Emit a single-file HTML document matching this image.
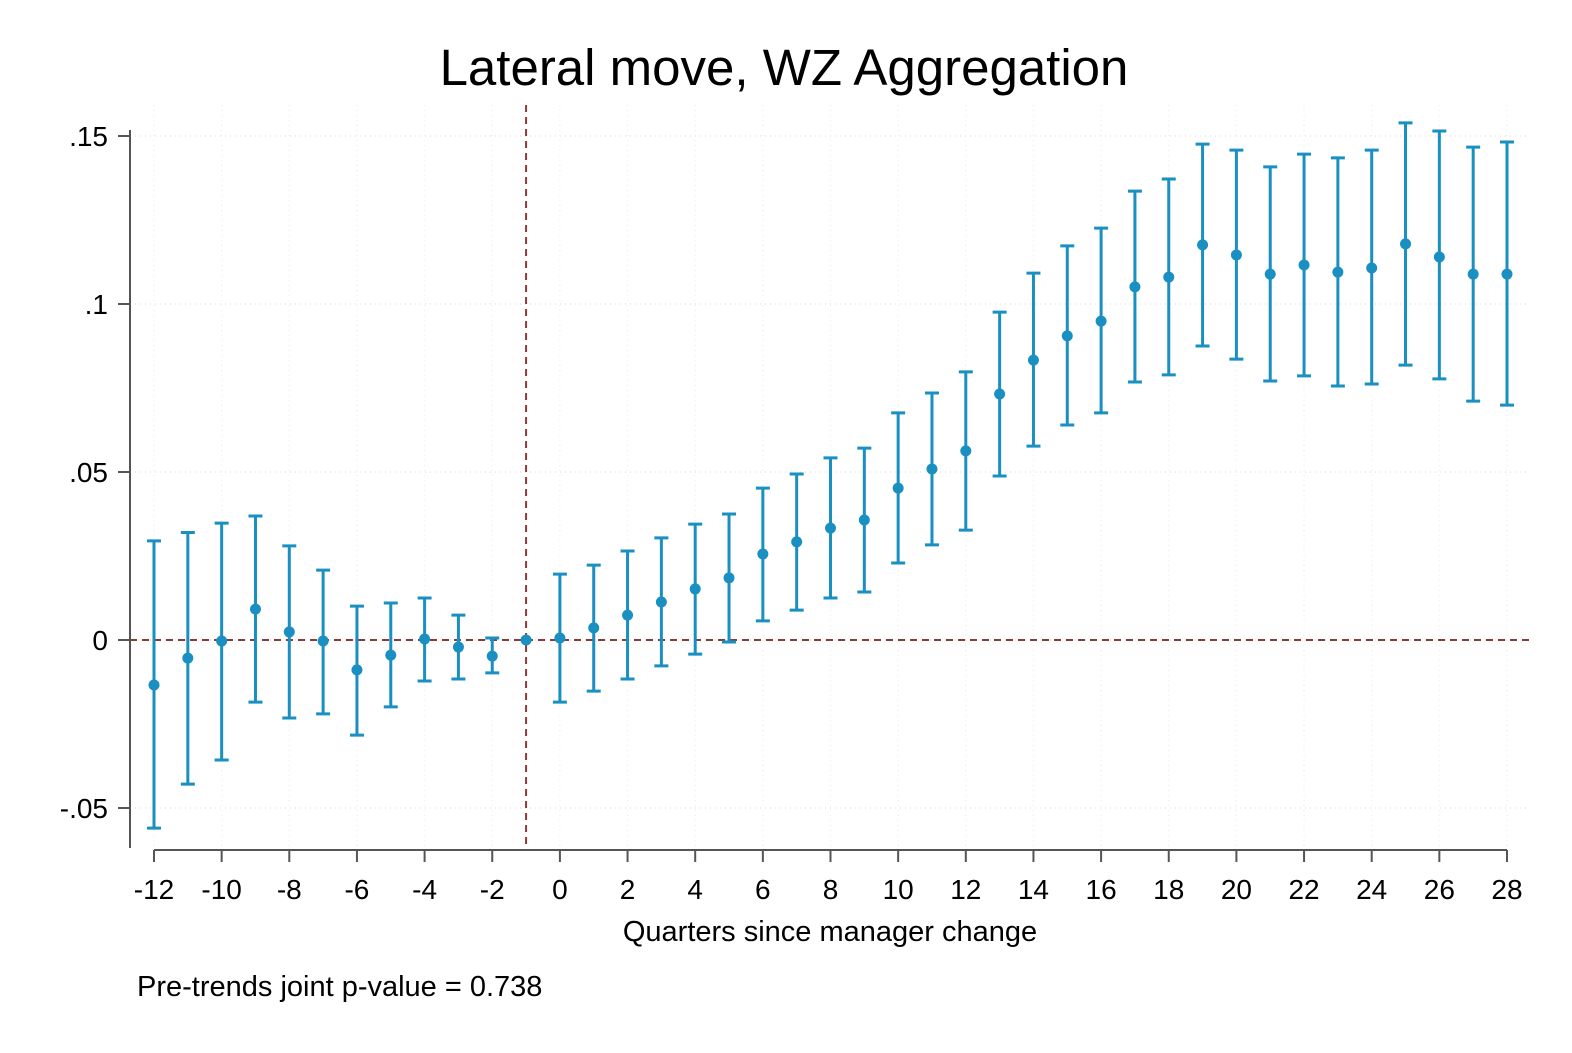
<!DOCTYPE html>
<html><head><meta charset="utf-8"><style>
body{margin:0;background:#fff;}
svg text{font-family:"Liberation Sans",Arial,sans-serif;fill:#000;}
</style></head><body>
<svg id="chart" width="1572" height="1048" viewBox="0 0 1572 1048" xmlns="http://www.w3.org/2000/svg">
<rect width="1572" height="1048" fill="#fff"/>
<text x="784" y="85" font-size="51" text-anchor="middle">Lateral move, WZ Aggregation</text>
<g id="grid"></g><g id="axes"></g><g id="refs"></g><g id="marks"></g>
<text x="830" y="941" font-size="29" text-anchor="middle">Quarters since manager change</text>
<text x="137" y="996" font-size="29">Pre-trends joint p-value = 0.738</text>
</svg>
<script>
const quarters=[-12,-11,-10,-9,-8,-7,-6,-5,-4,-3,-2,-1,0,1,2,3,4,5,6,7,8,9,10,11,12,13,14,15,16,17,18,19,20,21,22,23,24,25,26,27,28];
const estimates=[-0.0134,-0.0054,-0.0003,0.0092,0.0024,-0.0003,-0.0089,-0.0045,0.0003,-0.0021,-0.0048,0,0.0006,0.0036,0.0074,0.0113,0.0152,0.0185,0.0256,0.0292,0.0333,0.0357,0.0452,0.0509,0.0563,0.0732,0.0833,0.0905,0.0949,0.1051,0.108,0.1176,0.1146,0.1089,0.1116,0.1095,0.1107,0.1179,0.114,0.1089,0.1089];
const ciLow=[-0.056,-0.0429,-0.0357,-0.0185,-0.0232,-0.022,-0.0283,-0.0199,-0.0122,-0.0116,-0.0098,0,-0.0185,-0.0152,-0.0116,-0.0077,-0.0042,-0.0006,0.0057,0.0089,0.0125,0.0143,0.0229,0.0283,0.0327,0.0488,0.0577,0.064,0.0676,0.0768,0.0789,0.0875,0.0836,0.0771,0.0786,0.0756,0.0762,0.0818,0.0777,0.0711,0.0699];
const ciHigh=[0.0295,0.032,0.0348,0.0369,0.028,0.0208,0.0101,0.011,0.0125,0.0074,0.0006,0,0.0196,0.0223,0.0265,0.0304,0.0345,0.0375,0.0452,0.0494,0.0542,0.0571,0.0676,0.0735,0.0798,0.0976,0.1092,0.1173,0.1226,0.1336,0.1372,0.1476,0.1458,0.1408,0.1446,0.1435,0.1458,0.1539,0.1515,0.1467,0.1482];
const yTicks=[0.15,0.1,0.05,0,-0.05];
const yTickLabels=[".15",".1",".05","0","-.05"];
const xTicks=[-12,-10,-8,-6,-4,-2,0,2,4,6,8,10,12,14,16,18,20,22,24,26,28];
const X=v=>154+(v+12)*(1507-154)/40;
const Y=v=>640-v*3360;
const NS="http://www.w3.org/2000/svg";
function mk(parent,tag,attrs){const e=document.createElementNS(NS,tag);for(const k in attrs)e.setAttribute(k,attrs[k]);document.getElementById(parent).appendChild(e);return e;}
yTicks.forEach(t=>{const l=mk('grid','line',{x1:130,x2:1530,y1:Y(t),y2:Y(t),stroke:'#e4e4e4','stroke-width':1.5,'stroke-dasharray':'1 4'});

});
xTicks.forEach(t=>{const l=mk('grid','line',{x1:X(t),x2:X(t),y1:105,y2:848,stroke:'#f0f0f0','stroke-width':1.5,'stroke-dasharray':'1 4'});

});
let a=mk('axes','line',{x1:130,x2:130,y1:130,y2:848,stroke:'#555','stroke-width':2});


a=mk('axes','line',{x1:154,x2:1507,y1:850,y2:850,stroke:'#555','stroke-width':2});


yTicks.forEach((t,i)=>{mk('axes','line',{x1:118,x2:130,y1:Y(t),y2:Y(t),stroke:'#555','stroke-width':2});
const tx=mk('axes','text',{x:108,y:Y(t)+10,'font-size':28,'text-anchor':'end'});tx.textContent=yTickLabels[i];

});
xTicks.forEach(t=>{mk('axes','line',{x1:X(t),x2:X(t),y1:850,y2:862,stroke:'#555','stroke-width':2});
const tx=mk('axes','text',{x:X(t),y:899,'font-size':28,'text-anchor':'middle'});tx.textContent=String(t);

});
let r=mk('refs','line',{x1:130,x2:1530,y1:Y(0),y2:Y(0),stroke:'#8b3a3a','stroke-width':2,'stroke-dasharray':'7 5'});


r=mk('refs','line',{x1:X(-1),x2:X(-1),y1:105,y2:848,stroke:'#8b3a3a','stroke-width':2,'stroke-dasharray':'7 5'});


const C='#1a8fc1';
quarters.forEach((q,i)=>{const x=X(q);
if(ciHigh[i]!==ciLow[i]){
const b=mk('marks','path',{d:`M${x-7},${Y(ciHigh[i])}H${x+7}M${x},${Y(ciHigh[i])}V${Y(ciLow[i])}M${x-7},${Y(ciLow[i])}H${x+7}`,stroke:C,'stroke-width':3,fill:'none'});

}
const p=mk('marks','circle',{cx:x,cy:Y(estimates[i]),r:5.5,fill:C});

});
</script>
</body></html>
